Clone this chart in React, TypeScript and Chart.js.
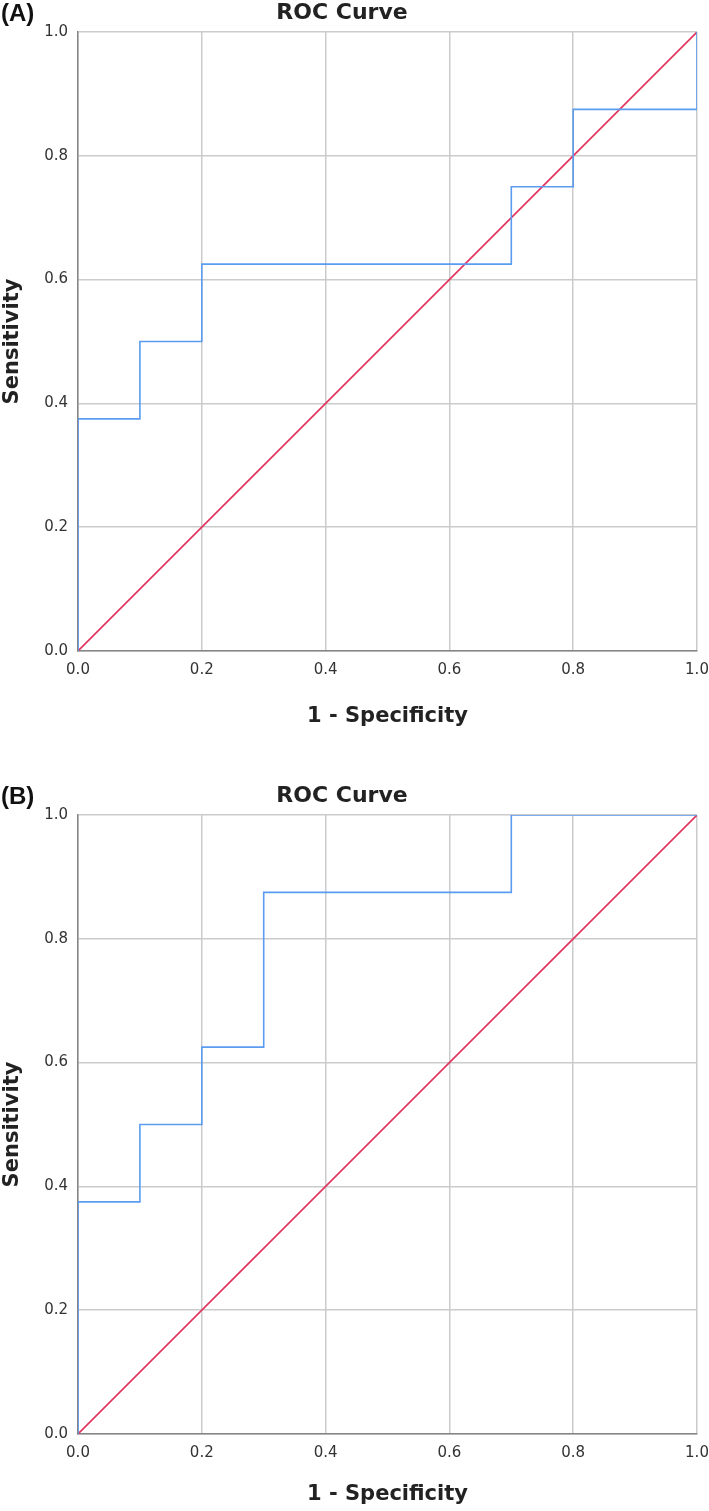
import React, { useEffect, useRef } from "react";
import { Chart, registerables } from "chart.js";

Chart.register(...registerables);

// ---- data ----
const panelLabels = ["(A)", "(B)"];
const chartTitle = "ROC Curve";
const xAxisTitle = "1 - Specificity";
const yAxisTitle = "Sensitivity";
const tickValues = [0, 0.2, 0.4, 0.6, 0.8, 1.0];

// Panel A ROC step curve (1 - specificity, sensitivity)
const rocA_fpr = [0, 0, 0.1, 0.1, 0.2, 0.2, 0.7, 0.7, 0.8, 0.8, 1.0, 1.0];
const rocA_tpr = [0, 0.375, 0.375, 0.5, 0.5, 0.625, 0.625, 0.75, 0.75, 0.875, 0.875, 1.0];

// Panel B ROC step curve
const rocB_fpr = [0, 0, 0.1, 0.1, 0.2, 0.2, 0.3, 0.3, 0.7, 0.7, 1.0];
const rocB_tpr = [0, 0.375, 0.375, 0.5, 0.5, 0.625, 0.625, 0.875, 0.875, 1.0, 1.0];

// Reference diagonal
const diag_x = [0, 1];
const diag_y = [0, 1];

const BLUE = "#5b9cf0";
const RED = "#e1325c";
const GRID = "#cbcbcb";
const AXIS = "#858585";
const TEXT = "#333333";

function toPoints(xs: number[], ys: number[]) {
  return xs.map((x, i) => ({ x, y: ys[i] }));
}

const titlePlugin = {
  id: "rocTitle",
  afterDraw(chart: any) {
    const ctx = chart.ctx;
    ctx.save();
    ctx.font = "bold 22px 'DejaVu Sans'";
    ctx.fillStyle = "#222222";
    ctx.textAlign = "center";
    ctx.textBaseline = "middle";
    ctx.fillText(chartTitle, 342, 13);
    ctx.restore();
  },
};

function RocPanel({
  fpr,
  tpr,
  label,
  top,
  xTitlePad,
}: {
  fpr: number[];
  tpr: number[];
  label: string;
  top: number;
  xTitlePad: number;
}) {
  const ref = useRef<HTMLCanvasElement | null>(null);
  useEffect(() => {
    if (!ref.current) return;
    const chart = new Chart(ref.current, {
      type: "scatter",
      data: {
        datasets: [
          {
            data: toPoints(fpr, tpr),
            showLine: true,
            borderColor: BLUE,
            borderWidth: 1.6,
            pointRadius: 0,
            tension: 0,
            fill: false,
          },
          {
            data: toPoints(diag_x, diag_y),
            showLine: true,
            borderColor: RED,
            borderWidth: 1.6,
            pointRadius: 0,
            tension: 0,
            fill: false,
          },
        ],
      },
      options: {
        animation: false,
        responsive: false,
        devicePixelRatio: 1,
        layout: { padding: { top: 32, right: 12, left: 0, bottom: 0 } },
        plugins: {
          legend: { display: false },
          tooltip: { enabled: false },
          title: { display: false },
        },
        scales: {
          x: {
            type: "linear",
            min: 0,
            max: 1,
            afterBuildTicks: (scale: any) => {
              scale.ticks = tickValues.map((v) => ({ value: v }));
            },
            afterFit: (scale: any) => {
              scale.height = 89;
              scale.paddingLeft = 0;
              scale.paddingRight = 0;
            },
            ticks: {
              padding: 10,
              color: TEXT,
              font: { family: "'DejaVu Sans'", size: 15 },
              callback: (v: any) => Number(v).toFixed(1),
              maxRotation: 0,
            },
            grid: { color: GRID, lineWidth: 1.5, drawTicks: false },
            border: { color: AXIS, width: 1.5 },
            title: {
              display: true,
              text: xAxisTitle,
              color: "#222222",
              font: { family: "'DejaVu Sans'", size: 21, weight: "bold" },
              padding: { top: 0, bottom: xTitlePad },
            },
          },
          y: {
            type: "linear",
            min: 0,
            max: 1,
            afterBuildTicks: (scale: any) => {
              scale.ticks = tickValues.map((v) => ({ value: v }));
            },
            afterFit: (scale: any) => {
              scale.width = 78;
              scale.paddingTop = 0;
              scale.paddingBottom = 0;
            },
            ticks: {
              padding: 10,
              color: TEXT,
              font: { family: "'DejaVu Sans'", size: 15 },
              callback: (v: any) => Number(v).toFixed(1),
            },
            grid: { color: GRID, lineWidth: 1.5, drawTicks: false },
            border: { color: AXIS, width: 1.5 },
            title: {
              display: true,
              text: yAxisTitle,
              color: "#222222",
              font: { family: "'DejaVu Sans'", size: 21, weight: "bold" },
              padding: { top: 0, bottom: 0 },
            },
          },
        },
      },
      plugins: [titlePlugin],
    });
    return () => chart.destroy();
  }, [fpr, tpr, xTitlePad]);

  return (
    <div style={{ position: "absolute", left: 0, top, width: 709, height: 740 }}>
      <canvas ref={ref} width={709} height={740} style={{ display: "block", width: 709, height: 740 }} />
      <div
        style={{
          position: "absolute",
          left: 1,
          top: 1,
          font: "bold 24px 'Liberation Sans', Arial, sans-serif",
          lineHeight: "24px",
          color: "#111",
        }}
      >
        {label}
      </div>
    </div>
  );
}

export default function App() {
  return (
    <div style={{ position: "absolute", left: 0, top: 0, width: 709, height: 1511, overflow: "hidden", background: "#fff" }}>
      <RocPanel fpr={rocA_fpr} tpr={rocA_tpr} label={panelLabels[0]} top={0} xTitlePad={11} />
      <RocPanel fpr={rocB_fpr} tpr={rocB_tpr} label={panelLabels[1]} top={783} xTitlePad={16} />
    </div>
  );
}
